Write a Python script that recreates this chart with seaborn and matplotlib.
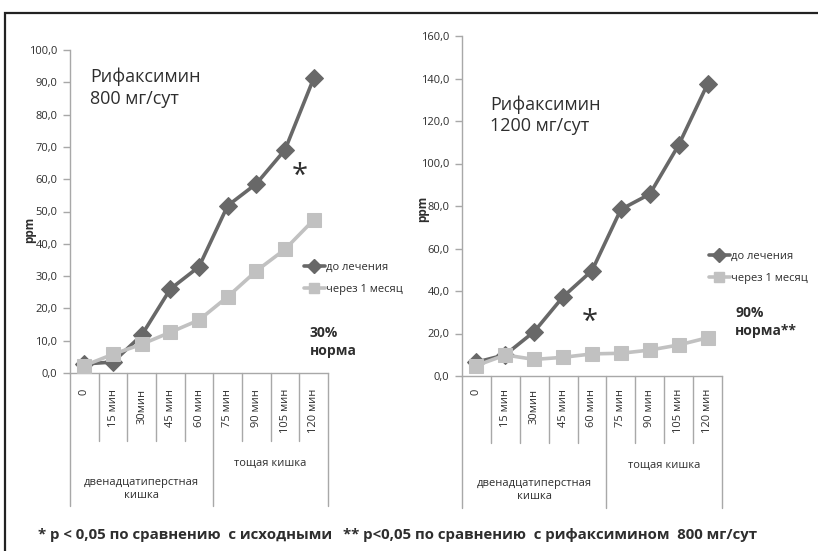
import matplotlib
matplotlib.use("Agg")
import matplotlib.pyplot as plt
import matplotlib.transforms as mtransforms
from matplotlib.lines import Line2D
from matplotlib.patches import Rectangle
import numpy as np
import pandas as pd
import seaborn as sns

# ---- data -------------------------------------------------------------
time_labels = ["0", "15 мин", "30мин", "45 мин", "60 мин",
               "75 мин", "90 мин", "105 мин", "120 мин"]
series_names = ["до лечения", "через 1 месяц"]

left_before = [2.8, 3.4, 11.7, 26.0, 32.9, 51.8, 58.6, 69.1, 91.2]
left_after = [2.3, 5.8, 8.9, 12.6, 16.4, 23.6, 31.6, 38.3, 47.4]
right_before = [6.5, 10.0, 20.9, 37.3, 49.6, 78.4, 85.6, 108.7, 137.4]
right_after = [4.9, 9.9, 7.8, 8.8, 10.4, 10.7, 12.2, 14.6, 18.0]

group_names = ["двенадцатиперстная\nкишка", "тощая кишка"]
group_sizes = [5, 4]

W, H = 818, 551
DARK = "#686868"
LIGHT = "#c1c1c1"
TXT = "#2e2e2e"

sns.set_theme(style="white")
plt.rcParams["font.family"] = ["Open Sans", "DejaVu Sans"]

fig = plt.figure(figsize=(W / 100, H / 100), dpi=100)
fig.patch.set_facecolor("white")


def fx(px):
    return px / W


def fy(py):
    return 1 - py / H


def make_df(before, after):
    n = len(time_labels)
    return pd.DataFrame({
        "pos": list(range(n)) * 2,
        "ppm": list(before) + list(after),
        "series": [series_names[0]] * n + [series_names[1]] * n,
    })


def draw_panel(rect, before, after, ymax, ystep, axis_bottom_px,
               short_px, long_px, lab_top_px, grp_y_px):
    ax = fig.add_axes(rect)
    df = make_df(before, after)
    sns.lineplot(data=df[df.series == series_names[0]], x="pos", y="ppm",
                 color=DARK, lw=2.6, marker="D", markersize=9.5,
                 markeredgecolor=DARK, ax=ax, zorder=3)
    sns.lineplot(data=df[df.series == series_names[1]], x="pos", y="ppm",
                 color=LIGHT, lw=2.6, marker="s", markersize=10,
                 markeredgecolor=LIGHT, ax=ax, zorder=4)
    n = len(time_labels)
    ax.set_xlim(-0.5, n - 0.5)
    ax.set_ylim(0, ymax)
    ax.set_yticks(np.arange(0, ymax + 0.1, ystep))
    ax.set_yticklabels([f"{v:.1f}".replace(".", ",") for v in
                        np.arange(0, ymax + 0.1, ystep)])
    ax.set_xticks([])
    ax.set_xlabel("")
    ax.set_ylabel("")
    for s in ["top", "right"]:
        ax.spines[s].set_visible(False)
    for s in ["left", "bottom"]:
        ax.spines[s].set_color("#a8a8a8")
        ax.spines[s].set_linewidth(1.0)
    ax.tick_params(axis="y", which="major", direction="out", length=5,
                   width=1, color="#a8a8a8", labelsize=8, labelcolor=TXT,
                   pad=4, left=True)
    ax.set_facecolor("none")

    tr = mtransforms.blended_transform_factory(ax.transData, fig.transFigure)
    # separators between categories and between groups
    bounds = np.arange(-0.5, n, 1.0)
    group_edges = np.cumsum([0] + group_sizes) - 0.5
    for b in bounds:
        end = long_px if np.isclose(group_edges, b).any() else short_px
        ax.add_line(Line2D([b, b], [fy(axis_bottom_px), fy(end)],
                           transform=tr, color="#a8a8a8", lw=1.0,
                           clip_on=False))
    for i, lab in enumerate(time_labels):
        ax.text(i, fy(lab_top_px), lab, transform=tr, rotation=90,
                ha="center", va="top", fontsize=8, color=TXT)
    for gi, g in enumerate(group_names):
        cx = (group_edges[gi] + group_edges[gi + 1]) / 2
        ax.text(cx, fy(grp_y_px[gi]), g, transform=tr, ha="center",
                va="center", fontsize=8, color=TXT, linespacing=1.3)
    return ax


ax1 = draw_panel([fx(70), fy(373), fx(328) - fx(70), fy(50) - fy(373)],
                 left_before, left_after, 100, 10, 373, 441, 506, 389,
                 [489, 463])
ax2 = draw_panel([fx(462), fy(376), fx(722) - fx(462), fy(36) - fy(376)],
                 right_before, right_after, 160, 20, 376, 443, 508, 389,
                 [490, 465])

# legends
handles = [
    Line2D([], [], color=DARK, lw=2.6, marker="D", markersize=7,
           markeredgecolor=DARK),
    Line2D([], [], color=LIGHT, lw=2.6, marker="s", markersize=7.5,
           markeredgecolor=LIGHT),
]
for ax, (lx, ly) in [(ax1, (298, 278.5)), (ax2, (703, 267.5))]:
    ax.legend(handles, series_names, loc="center left",
              bbox_to_anchor=(fx(lx), fy(ly)), bbox_transform=fig.transFigure,
              frameon=False, fontsize=8, handlelength=1.9, handletextpad=0.15,
              labelspacing=1.05, borderpad=0, labelcolor=TXT)

# y axis titles
fig.text(fx(29.5), fy(230), "ppm", rotation=90, ha="center", va="center",
         fontsize=8.5, fontweight="bold", color=TXT)
fig.text(fx(423), fy(209), "ppm", rotation=90, ha="center", va="center",
         fontsize=8.5, fontweight="bold", color=TXT)

# panel titles
fig.text(fx(90), fy(88), "Рифаксимин\n800 мг/сут", ha="left", va="center",
         fontsize=13, color=TXT, linespacing=1.25)
fig.text(fx(490), fy(115), "Рифаксимин\n1200 мг/сут", ha="left",
         va="center", fontsize=13, color=TXT, linespacing=1.25)

# significance marks
fig.text(fx(300), fy(176), "*", ha="center", va="center", fontsize=21,
         color=TXT)
fig.text(fx(590), fy(322), "*", ha="center", va="center", fontsize=21,
         color=TXT)
fig.text(fx(310), fy(342), "30%\nнорма", ha="left", va="center",
         fontsize=10, fontweight="bold", color=TXT, linespacing=1.45)
fig.text(fx(735), fy(322), "90%\nнорма**", ha="left", va="center",
         fontsize=10, fontweight="bold", color=TXT, linespacing=1.45)

# footnotes
fig.text(fx(38), fy(535), "* p < 0,05 по сравнению  с исходными",
         ha="left", va="center", fontsize=10.8, fontweight="bold", color=TXT)
fig.text(fx(343), fy(535),
         "** p<0,05 по сравнению  с рифаксимином  800 мг/сут",
         ha="left", va="center", fontsize=10.8, fontweight="bold", color=TXT)

# outer frame
fig.patches.append(Rectangle((fx(5), -0.1), 1.0, fy(13) + 0.1,
                             transform=fig.transFigure, fill=False,
                             edgecolor="#222222", lw=1.6))

fig.savefig("out.png", dpi=100)
